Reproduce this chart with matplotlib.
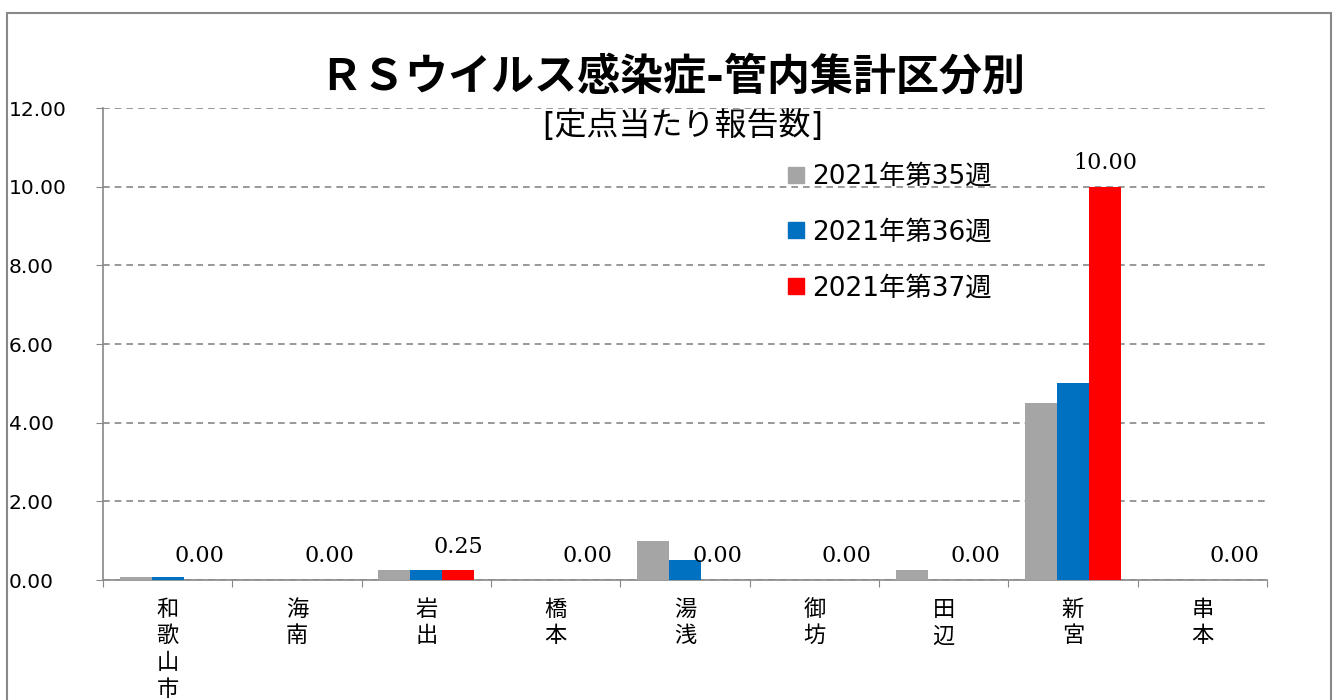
import matplotlib
matplotlib.use("Agg")
import matplotlib.pyplot as plt
import numpy as np
from matplotlib.patches import Rectangle
from matplotlib.lines import Line2D

plt.rcParams['font.family'] = ['DejaVu Sans', 'Noto Sans CJK JP']

areas = ["和歌山市", "海南", "岩出", "橋本", "湯浅", "御坊", "田辺", "新宮", "串本"]
week35 = [0.08, 0.0, 0.25, 0.0, 1.00, 0.0, 0.25, 4.50, 0.0]
week36 = [0.08, 0.0, 0.25, 0.0, 0.50, 0.0, 0.0, 5.00, 0.0]
week37 = [0.0, 0.0, 0.25, 0.0, 0.0, 0.0, 0.0, 10.00, 0.0]
series_names = ["2021年第35週", "2021年第36週", "2021年第37週"]
colors = ["#a5a5a5", "#0070c0", "#ff0000"]

fig = plt.figure(figsize=(13.38, 7), dpi=100)
ax = fig.add_axes([103/1338, 1-580/700, 1164/1338, 472/700])

# outer frame of the chart
fig.patches.append(Rectangle((7/1338, -0.05), 1324/1338, 1-13/700+0.05,
                             transform=fig.transFigure, fill=False,
                             edgecolor="#888888", linewidth=1.5))

x = np.arange(len(areas))
w = 0.247
for i, (vals, c, name) in enumerate(zip([week35, week36, week37], colors, series_names)):
    ax.bar(x + (i - 1) * w, vals, width=w, color=c, label=name, zorder=3)

# data labels only for the latest week
for xi, v in zip(x, week37):
    ax.annotate(f"{v:.2f}", (xi + w, v), xytext=(0, 17), textcoords="offset points",
                ha="center", va="center", fontsize=16, family="DejaVu Serif")

ax.set_xlim(-0.5, len(areas) - 0.5)
ax.set_ylim(0, 12)
ax.set_yticks(np.arange(0, 13, 2))
ax.set_yticklabels([f"{t:.2f}" for t in np.arange(0, 13, 2)], fontsize=14.5, ha="left")
ax.tick_params(axis="y", length=5, color="#888888", pad=63)
ax.yaxis.grid(True, linestyle=(0, (4, 3)), color="#888888", linewidth=1.2, zorder=0)

ax.set_xticks(np.arange(len(areas) + 1) - 0.5)
ax.set_xticklabels([])
ax.tick_params(axis="x", length=5, color="#888888")
for xi, name in zip(x, areas):
    ax.text(xi, -0.45, "\n".join(name), ha="center", va="top", fontsize=16,
            family="Noto Sans CJK JP", linespacing=1.2)

for s in ["top", "right"]:
    ax.spines[s].set_visible(False)
for s in ["left", "bottom"]:
    ax.spines[s].set_color("#888888")
    ax.spines[s].set_linewidth(1.2)

fig.text(672/1338, 1-78/700, "ＲＳウイルス感染症-管内集計区分別", ha="center", va="center",
         fontsize=31, fontweight="bold")
fig.text(683/1338, 1-126/700, "[定点当たり報告数]", ha="center", va="center", fontsize=23)

handles = [Line2D([], [], marker="s", linestyle="", markersize=11.5, color=c) for c in colors]
ax.legend(handles, series_names, loc="upper left", bbox_to_anchor=(762/1338, 1-140/700),
          bbox_transform=fig.transFigure, frameon=False, fontsize=19,
          labelspacing=1.13, handlelength=0.8, handletextpad=0.2, borderpad=0.4)

fig.savefig("out.png", dpi=100)
